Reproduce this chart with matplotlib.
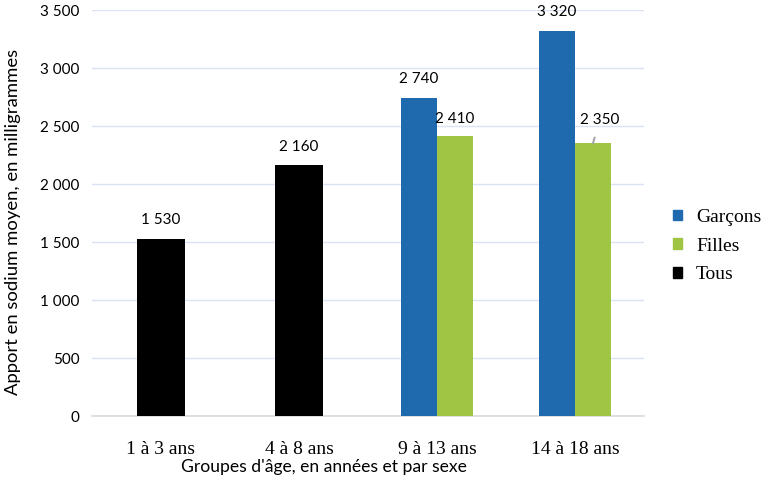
import numpy as np
import matplotlib.pyplot as plt
from matplotlib.patches import Patch

categories = ["1 à 3 ans", "4 à 8 ans", "9 à 13 ans", "14 à 18 ans"]
tous = [1530, 2160, None, None]
garcons = [None, None, 2740, 3320]
filles = [None, None, 2410, 2350]
yticks = [0, 500, 1000, 1500, 2000, 2500, 3000, 3500]

blue = "#1f6aae"
green = "#a0c444"
black = "#000000"
sans = ["Lato", "DejaVu Sans"]
serif = ["Liberation Serif", "DejaVu Serif"]

def fmt(v):
    return "{:,}".format(v).replace(",", " ")

fig = plt.figure(figsize=(7.69, 4.86), dpi=100)
ax = fig.add_axes([92 / 769, 70 / 486, 552 / 769, 406 / 486])

x = np.arange(len(categories))
w_pair = 0.26
w_one = 0.35

for i in range(len(categories)):
    if tous[i] is not None:
        ax.bar(x[i], tous[i], w_one, color=black, zorder=3)
        ax.annotate(fmt(tous[i]), (x[i], tous[i]), xytext=(0, 13.5), textcoords="offset points",
                    ha="center", va="center", fontsize=11, family=sans)
    if garcons[i] is not None:
        ax.bar(x[i] - w_pair / 2, garcons[i], w_pair, color=blue, zorder=3)
        ax.annotate(fmt(garcons[i]), (x[i] - w_pair / 2, garcons[i]), xytext=(0, 13.5),
                    textcoords="offset points", ha="center", va="center", fontsize=11, family=sans)
    if filles[i] is not None:
        ax.bar(x[i] + w_pair / 2, filles[i], w_pair, color=green, zorder=3)

# labels for Filles (last one pulled up with a leader line)
ax.annotate(fmt(filles[2]), (x[2] + w_pair / 2, filles[2]), xytext=(0, 12.5),
            textcoords="offset points", ha="center", va="center", fontsize=11, family=sans)
ax.annotate(fmt(filles[3]), (x[3] + w_pair / 2, filles[3]), xytext=(5, 17),
            textcoords="offset points", ha="center", va="center", fontsize=11, family=sans,
            arrowprops=dict(arrowstyle="-", color="#a6a6a6", lw=1.5, shrinkA=6, shrinkB=0))

ax.set_xlim(-0.5, len(categories) - 0.5)
ax.set_ylim(0, 3500)
ax.set_yticks(yticks)
ax.set_yticklabels([fmt(v) for v in yticks], family=sans, fontsize=11)
ax.set_xticks(x)
ax.set_xticklabels(categories, family=serif, fontsize=14)
ax.tick_params(axis="x", length=0, pad=18)
ax.tick_params(axis="y", length=0, pad=9)
ax.grid(axis="y", color="#dae3f3", lw=1, zorder=0)
for s in ["top", "right", "left"]:
    ax.spines[s].set_visible(False)
ax.spines["bottom"].set_color("#d9d9d9")
ax.spines["bottom"].set_linewidth(1.2)

fig.text(324 / 769, 1 - 467 / 486, "Groupes d'âge, en années et par sexe", ha="center", va="center",
         fontsize=12.6, family=sans)
fig.text(13 / 769, 1 - 222 / 486, "Apport en sodium moyen, en milligrammes", ha="center", va="center",
         rotation=90, fontsize=13.3, family=sans)

handles = [Patch(color=blue), Patch(color=green), Patch(color=black)]
fig.legend(handles, ["Garçons", "Filles", "Tous"], loc="center left", bbox_to_anchor=(673 / 769, 1 - 246 / 486),
           frameon=False, prop={"family": serif, "size": 14}, handlelength=0.48, handleheight=0.48,
           handletextpad=0.7, labelspacing=0.6, borderpad=0, borderaxespad=0)

fig.savefig("out.png", dpi=100)
